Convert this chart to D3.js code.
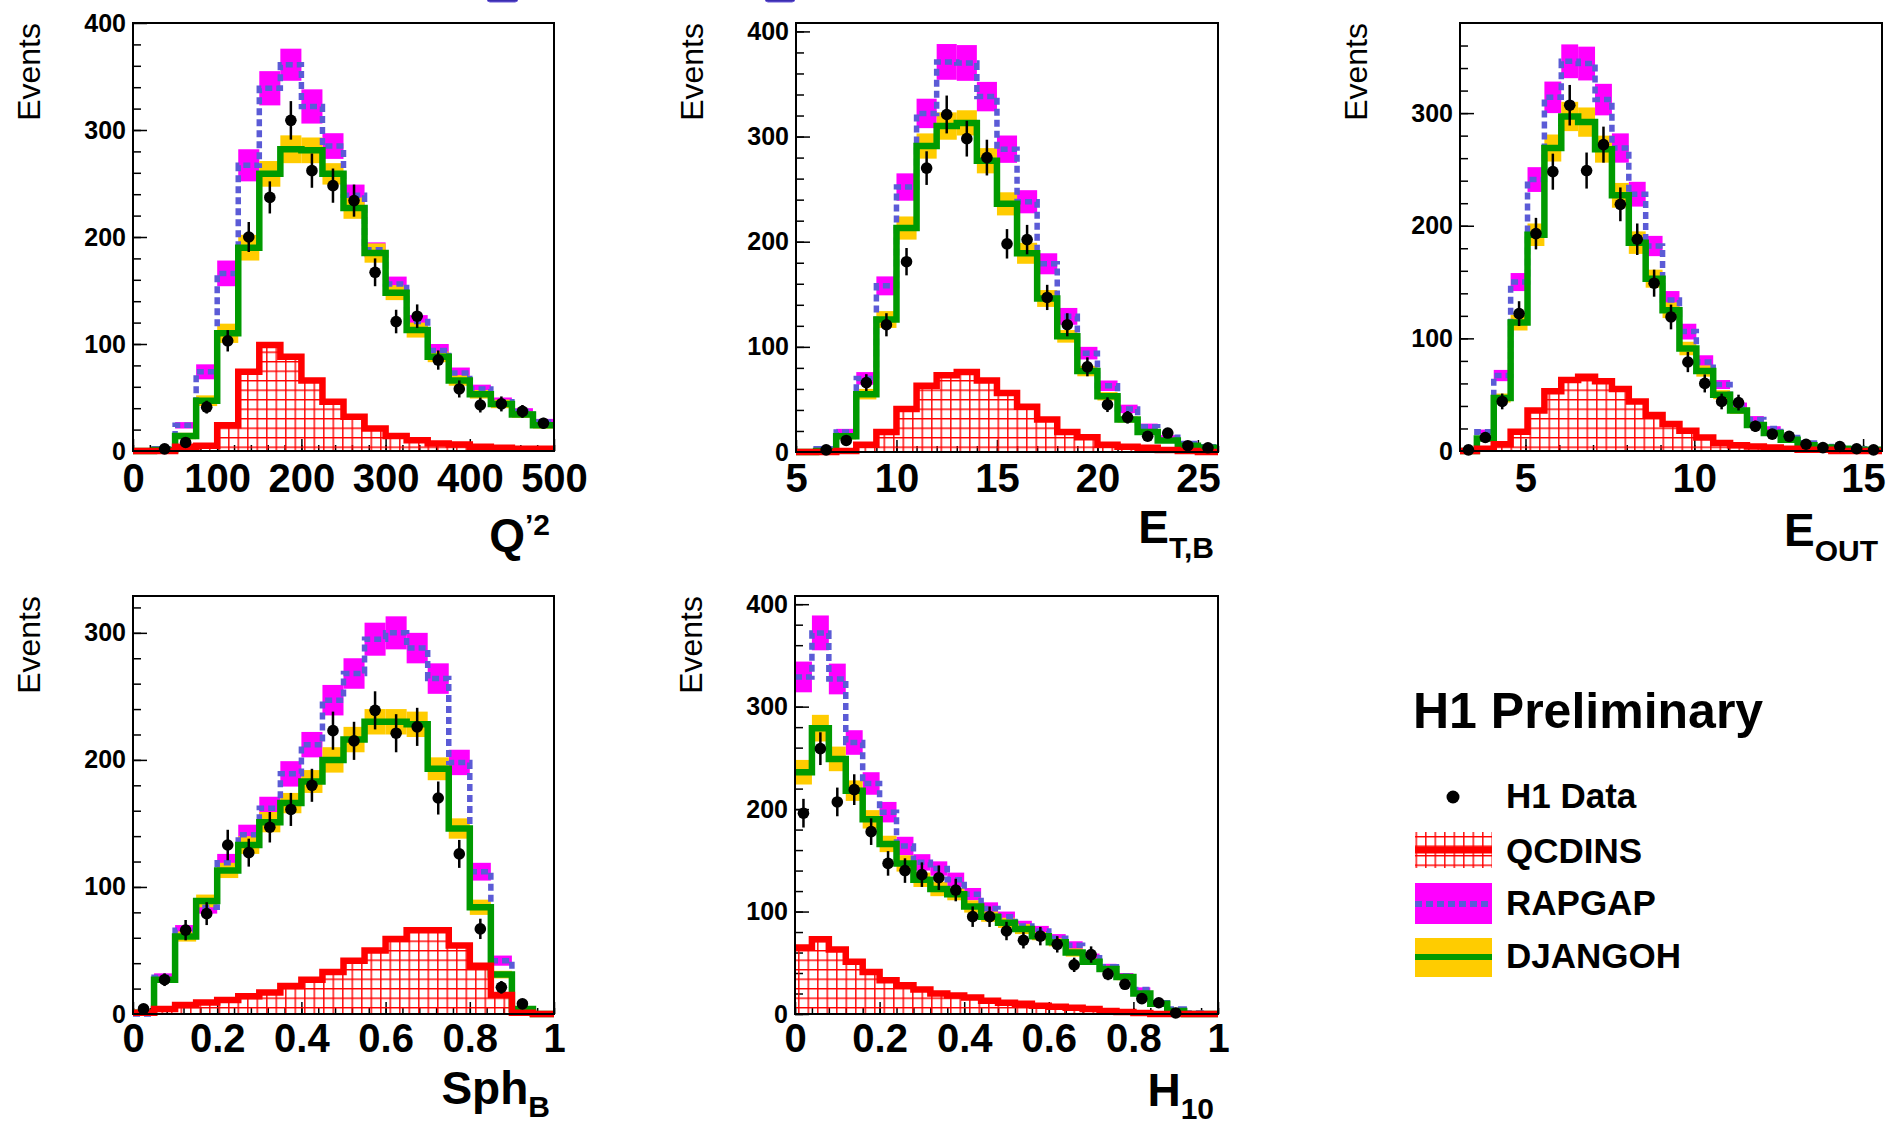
<!DOCTYPE html>
<html>
<head>
<meta charset="utf-8">
<title>H1 Preliminary - hadronic final state distributions</title>
<script src="https://d3js.org/d3.v7.min.js"></script>
<style>
  body { margin: 0; background: #fff; }
  svg text { font-family: "Liberation Sans", Arial, Helvetica, sans-serif; fill: #000; }
</style>
</head>
<body>
<svg id="chart" width="1901" height="1127"></svg>
<script>
// ---- Q'2 ----
const q2Edges = [0,25,50,75,100,125,150,175,200,225,250,275,300,325,350,375,400,425,450,475,500];
const q2Data = [null,2,8,41,103,200,237,309,262,248,234,167,121,126,85,58,43,44,37,26];
const q2DataErr = [0,1,3,6,10,14,15,18,16,16,15,13,11,11,9,8,7,7,6,5];
const q2Qcdins = [0,0,4,5,24,74,99,88,66,46,32,21,14,10,7,6,4,3,2,2];
const q2Rapgap = [0,2,24,74,166,267,339,361,322,285,239,188,156,121,94,73,58,46,37,27];
const q2RapgapErr = [0,1,3,7,12,15,16,15,16,12,10,7,7,6,6,5,4,4,3,3];
const q2Djangoh = [0,1,14,47,110,190,259,282,281,259,227,185,148,113,88,66,53,44,34,24];
const q2DjangohErr = [0,1,3,5,9,12,12,13,12,10,10,9,7,7,5,5,4,4,3,3];
const q2XTicks = [0,100,200,300,400,500];

// ---- E_T,B ----
const etbEdges = [5,6,7,8,9,10,11,12,13,14,15,16,17,18,19,20,21,22,23,24,25,26];
const etbData = [null,2,11,66,121,181,270,321,298,280,198,202,147,121,81,45,33,15,18,6,4];
const etbDataErr = [0,1,3,8,11,13,16,18,17,17,14,14,12,11,9,7,6,4,4,2,2];
const etbQcdins = [0,0,1,7,19,41,63,73,76,68,56,43,31,19,14,7,5,4,2,1,0];
const etbRapgap = [0,3,19,70,158,252,322,371,370,338,288,238,179,129,94,63,41,24,14,8,5];
const etbRapgapErr = [0,1,3,6,9,13,14,17,17,14,13,11,10,8,6,5,4,3,2,2,1];
const etbDjangoh = [0,1,15,55,126,213,291,310,313,277,236,189,146,110,77,53,31,19,11,6,4];
const etbDjangohErr = [0,1,3,5,8,11,12,13,12,12,11,10,8,6,5,4,3,2,2,1,1];
const etbXTicks = [5,10,15,20,25];

// ---- E_OUT ----
const eoutEdges = [3.06,3.56,4.06,4.56,5.06,5.56,6.06,6.56,7.06,7.56,8.06,8.56,9.06,9.56,10.06,10.56,11.06,11.56,12.06,12.56,13.06,13.56,14.06,14.56,15.06,15.56];
const eoutData = [1,12,44,122,193,248,307,249,272,219,188,149,119,79,60,44,43,22,15,13,6,3,4,2,1];
const eoutDataErr = [1,3,7,11,14,16,18,16,16,15,14,12,11,9,8,7,7,5,4,4,2,2,2,1,1];
const eoutQcdins = [0,2,6,17,36,53,63,66,62,55,44,32,24,18,12,7,5,4,3,2,1,1,0,0,0];
const eoutRapgap = [0,17,67,150,241,314,346,344,312,269,228,182,134,106,79,59,40,28,20,12,7,4,3,2,2];
const eoutRapgapErr = [0,2,5,8,11,14,15,15,14,13,11,9,8,7,6,4,3,3,2,2,1,1,1,1,1];
const eoutDjangoh = [0,11,47,114,192,269,297,292,268,227,185,153,125,91,71,50,36,23,16,10,5,3,2,1,1];
const eoutDjangohErr = [0,2,4,7,10,12,13,13,12,11,10,8,7,6,5,4,3,2,2,1,1,1,1,1,1];
const eoutXTicks = [5,10,15];

// ---- Sph_B ----
const sphEdges = [0,0.05,0.1,0.15,0.2,0.25,0.3,0.35,0.4,0.45,0.5,0.55,0.6,0.65,0.7,0.75,0.8,0.85,0.9,0.95,1];
const sphData = [4,27,66,79,133,127,147,161,180,223,215,239,221,226,170,126,67,21,8,null];
const sphDataErr = [2,5,8,9,12,11,12,13,13,15,15,15,15,15,13,11,8,5,3,0];
const sphQcdins = [1,4,7,9,11,14,17,22,27,33,42,50,59,66,66,54,38,15,1,0];
const sphRapgap = [0,29,66,84,119,141,162,189,212,247,268,295,300,288,264,198,112,42,3,0];
const sphRapgapErr = [0,3,4,5,7,8,9,10,10,12,12,13,13,12,12,10,7,4,1,0];
const sphDjangoh = [1,27,61,89,113,133,151,166,183,200,216,230,230,228,193,146,84,31,4,0];
const sphDjangohErr = [0,2,4,5,6,7,8,8,9,10,10,10,10,10,9,8,6,3,1,0];
const sphXTicks = [0,0.2,0.4,0.6,0.8,1];

// ---- H_10 ----
const h10Edges = [0,0.04,0.08,0.12,0.16,0.2,0.24,0.28,0.32,0.36,0.4,0.44,0.48,0.52,0.56,0.6,0.64,0.68,0.72,0.76,0.8,0.84,0.88,0.92,0.96,1];
const h10Data = [196,259,207,219,178,147,140,136,133,121,95,95,81,72,76,68,48,58,39,29,15,11,1,null,null];
const h10DataErr = [14,16,14,15,13,12,12,12,12,11,10,10,9,8,9,8,7,8,6,5,4,3,1,0,0];
const h10Qcdins = [65,73,63,51,41,33,28,24,20,18,16,13,11,10,8,7,6,5,3,2,1,0,0,0,0];
const h10Rapgap = [329,372,327,265,225,197,164,148,142,131,117,103,95,86,81,74,67,55,46,37,24,11,5,1,0];
const h10RapgapErr = [15,17,15,12,11,10,9,8,7,7,6,6,5,5,5,4,4,4,3,3,2,2,1,1,0];
const h10Djangoh = [236,279,249,218,190,166,147,131,122,117,105,95,89,83,76,70,60,51,44,36,20,10,3,0,0];
const h10DjangohErr = [12,13,12,10,9,8,8,7,7,6,6,5,5,5,4,4,4,3,3,3,2,1,1,0,0];
const h10XTicks = [0,0.2,0.4,0.6,0.8,1];

const legendLabels = ["H1 Data", "QCDINS", "RAPGAP", "DJANGOH"];

const colors = {
  magenta: "#ff00ff", rapLine: "#5b5bd6", yellow: "#ffcc00",
  green: "#009a00", red: "#ff0000"
};

const panels = [
  { edges: q2Edges, data: q2Data, dataErr: q2DataErr, qcd: q2Qcdins, rap: q2Rapgap, rapErr: q2RapgapErr,
    dj: q2Djangoh, djErr: q2DjangohErr, xTicks: q2XTicks, xMinor: 20, yMax: 400, yMajor: [0,100,200,300,400],
    box: {x: 133, y: 23, w: 421, h: 428}, labelY: 41, title: {main: "Q", sup: "\u20192", y: 551, dsub: 0} },
  { edges: etbEdges, data: etbData, dataErr: etbDataErr, qcd: etbQcdins, rap: etbRapgap, rapErr: etbRapgapErr,
    dj: etbDjangoh, djErr: etbDjangohErr, xTicks: etbXTicks, xMinor: 1, yMax: 408, yMajor: [0,100,200,300,400],
    box: {x: 796, y: 23, w: 422, h: 429}, labelY: 40, title: {main: "E", sub: "T,B", y: 543, dsub: 15} },
  { edges: eoutEdges, data: eoutData, dataErr: eoutDataErr, qcd: eoutQcdins, rap: eoutRapgap, rapErr: eoutRapgapErr,
    dj: eoutDjangoh, djErr: eoutDjangohErr, xTicks: eoutXTicks, xMinor: 1, yMax: 380, yMajor: [0,100,200,300],
    box: {x: 1460, y: 23, w: 422, h: 428}, labelY: 41, title: {main: "E", sub: "OUT", y: 546, dsub: 15} },
  { edges: sphEdges, data: sphData, dataErr: sphDataErr, qcd: sphQcdins, rap: sphRapgap, rapErr: sphRapgapErr,
    dj: sphDjangoh, djErr: sphDjangohErr, xTicks: sphXTicks, xMinor: 0.04, yMax: 329, yMajor: [0,100,200,300],
    box: {x: 133, y: 596, w: 421, h: 418}, labelY: 38, title: {main: "Sph", sub: "B", y: 1104, dsub: 13} },
  { edges: h10Edges, data: h10Data, dataErr: h10DataErr, qcd: h10Qcdins, rap: h10Rapgap, rapErr: h10RapgapErr,
    dj: h10Djangoh, djErr: h10DjangohErr, xTicks: h10XTicks, xMinor: 0.04, yMax: 408, yMajor: [0,100,200,300,400],
    box: {x: 795, y: 596, w: 423, h: 418}, labelY: 38, title: {main: "H", sub: "10", y: 1106, dsub: 13} }
];

const svg = d3.select("#chart");

// cropped link boxes at the very top of the page
[[487, 31], [765, 30]].forEach(([bx, bw]) => {
  svg.append("rect").attr("x", bx).attr("y", -8).attr("width", bw).attr("height", 10)
    .attr("rx", 3).attr("fill", "#3a2db0").attr("stroke", "#6a5ad8").attr("stroke-width", 1);
});

const defs = svg.append("defs");
const hatch = defs.append("pattern").attr("id", "hatch")
  .attr("patternUnits", "userSpaceOnUse").attr("width", 9.5).attr("height", 9.5);
hatch.append("path").attr("d", "M0,0.8H9.5M0.8,0V9.5")
  .attr("stroke", colors.red).attr("stroke-width", 1.4).attr("fill", "none");

function stepPoints(edges, vals) {
  const pts = vals.map((v, i) => [edges[i], v]);
  pts.push([edges[edges.length - 1], vals[vals.length - 1]]);
  return pts;
}

function drawPanel(p) {
  const b = p.box;
  const x = d3.scaleLinear().domain([p.edges[0], p.edges[p.edges.length - 1]]).range([b.x, b.x + b.w]);
  const y = d3.scaleLinear().domain([0, p.yMax]).range([b.y + b.h, b.y]);
  const g = svg.append("g");

  // ticks (inside the frame)
  const yMinor = d3.range(0, p.yMax, 20);
  g.append("g").attr("transform", `translate(${b.x},0)`)
    .call(d3.axisLeft(y).tickValues(yMinor).tickSize(-8).tickFormat(""))
    .call(a => a.select(".domain").remove())
    .call(a => a.selectAll("line").attr("stroke", "#000").attr("stroke-width", 1.5));
  g.append("g").attr("transform", `translate(${b.x},0)`)
    .call(d3.axisLeft(y).tickValues(p.yMajor).tickSize(-14).tickPadding(7).tickFormat(d3.format("d")))
    .call(a => a.select(".domain").remove())
    .call(a => a.selectAll("line").attr("stroke", "#000").attr("stroke-width", 1.5))
    .call(a => a.selectAll("text").attr("font-size", 25).attr("font-weight", "bold")
      .attr("font-family", null).attr("fill", "#000"));

  const x0 = x.domain()[0], x1 = x.domain()[1];
  const xMinorVals = d3.range(Math.ceil(x0 / p.xMinor - 1e-6) * p.xMinor, x1 + 1e-9, p.xMinor);
  g.append("g").attr("transform", `translate(0,${y(0)})`)
    .call(d3.axisBottom(x).tickValues(xMinorVals).tickSize(-6).tickFormat(""))
    .call(a => a.select(".domain").remove())
    .call(a => a.selectAll("line").attr("stroke", "#000").attr("stroke-width", 1.5));
  g.append("g").attr("transform", `translate(0,${y(0)})`)
    .call(d3.axisBottom(x).tickValues(p.xTicks).tickSize(-12).tickFormat(d3.format("~g")))
    .call(a => a.select(".domain").remove())
    .call(a => a.selectAll("line").attr("stroke", "#000").attr("stroke-width", 1.5))
    .call(a => a.selectAll("text").attr("dy", null).attr("y", p.labelY)
      .attr("font-size", 40).attr("font-weight", "bold").attr("font-family", null).attr("fill", "#000"));

  const bins = p.rap.map((v, i) => i);

  // RAPGAP band
  g.append("g").selectAll("rect").data(bins.filter(i => p.rapErr[i] > 0)).join("rect")
    .attr("x", i => x(p.edges[i])).attr("width", i => x(p.edges[i + 1]) - x(p.edges[i]))
    .attr("y", i => y(p.rap[i] + p.rapErr[i]))
    .attr("height", i => y(p.rap[i] - p.rapErr[i]) - y(p.rap[i] + p.rapErr[i]))
    .attr("fill", colors.magenta);
  // DJANGOH band
  g.append("g").selectAll("rect").data(bins.filter(i => p.djErr[i] > 0)).join("rect")
    .attr("x", i => x(p.edges[i])).attr("width", i => x(p.edges[i + 1]) - x(p.edges[i]))
    .attr("y", i => y(p.dj[i] + p.djErr[i]))
    .attr("height", i => y(p.dj[i] - p.djErr[i]) - y(p.dj[i] + p.djErr[i]))
    .attr("fill", colors.yellow);

  const line = d3.line().x(d => x(d[0])).y(d => y(d[1])).curve(d3.curveStepAfter);
  const area = d3.area().x(d => x(d[0])).y0(y(0)).y1(d => y(d[1])).curve(d3.curveStepAfter);

  // QCDINS hatched area
  g.append("path").attr("d", area(stepPoints(p.edges, p.qcd))).attr("fill", "url(#hatch)");
  // RAPGAP line
  g.append("path").attr("d", line(stepPoints(p.edges, p.rap)))
    .attr("fill", "none").attr("stroke", colors.rapLine).attr("stroke-width", 5.5)
    .attr("stroke-dasharray", "7,4");
  // DJANGOH line
  g.append("path").attr("d", line(stepPoints(p.edges, p.dj)))
    .attr("fill", "none").attr("stroke", colors.green).attr("stroke-width", 6.5);
  // QCDINS line
  g.append("path").attr("d", line(stepPoints(p.edges, p.qcd)))
    .attr("fill", "none").attr("stroke", colors.red).attr("stroke-width", 6.5);

  // data points
  const pts = bins.filter(i => p.data[i] !== null);
  const cx = i => x((p.edges[i] + p.edges[i + 1]) / 2);
  g.append("g").selectAll("line").data(pts).join("line")
    .attr("x1", cx).attr("x2", cx)
    .attr("y1", i => y(p.data[i] - p.dataErr[i])).attr("y2", i => y(p.data[i] + p.dataErr[i]))
    .attr("stroke", "#000").attr("stroke-width", 2.5);
  g.append("g").selectAll("circle").data(pts).join("circle")
    .attr("cx", cx).attr("cy", i => y(p.data[i])).attr("r", 5.8).attr("fill", "#000");

  // frame
  g.append("rect").attr("x", b.x).attr("y", b.y).attr("width", b.w).attr("height", b.h)
    .attr("fill", "none").attr("stroke", "#000").attr("stroke-width", 2);

  // y title
  g.append("text").attr("transform", `translate(${b.x - 93},${b.y}) rotate(-90)`)
    .attr("text-anchor", "end").attr("font-size", 32).attr("fill", "#111").text("Events");

  // x title
  const t = g.append("text").attr("x", b.x + b.w - 4).attr("y", p.title.y)
    .attr("text-anchor", "end").attr("font-weight", "bold");
  t.append("tspan").attr("font-size", 46).text(p.title.main);
  if (p.title.sub) t.append("tspan").attr("font-size", 30).attr("dy", p.title.dsub).text(p.title.sub);
  if (p.title.sup) t.append("tspan").attr("font-size", 30).attr("dy", -16).text(p.title.sup);
}

panels.forEach(drawPanel);

// legend
const lg = svg.append("g");
lg.append("text").attr("x", 1413).attr("y", 728).attr("font-size", 50).attr("font-weight", "bold")
  .text("H1 Preliminary");
const rowBase = [808, 863, 915, 968];
lg.selectAll("text.entry").data(legendLabels).join("text").attr("class", "entry")
  .attr("x", 1506).attr("y", (d, i) => rowBase[i])
  .attr("font-size", 35).attr("font-weight", "bold").text(d => d);
lg.append("circle").attr("cx", 1453).attr("cy", 797).attr("r", 6.5).attr("fill", "#000");
lg.append("rect").attr("x", 1415).attr("y", 832).attr("width", 77).attr("height", 36).attr("fill", "url(#hatch)");
lg.append("line").attr("x1", 1415).attr("x2", 1492).attr("y1", 850).attr("y2", 850)
  .attr("stroke", colors.red).attr("stroke-width", 7);
lg.append("rect").attr("x", 1415).attr("y", 883).attr("width", 77).attr("height", 41).attr("fill", colors.magenta);
lg.append("line").attr("x1", 1415).attr("x2", 1492).attr("y1", 904).attr("y2", 904)
  .attr("stroke", colors.rapLine).attr("stroke-width", 6).attr("stroke-dasharray", "7,4");
lg.append("rect").attr("x", 1415).attr("y", 938).attr("width", 77).attr("height", 39).attr("fill", colors.yellow);
lg.append("line").attr("x1", 1415).attr("x2", 1492).attr("y1", 957).attr("y2", 957)
  .attr("stroke", colors.green).attr("stroke-width", 6);
</script>
</body>
</html>
